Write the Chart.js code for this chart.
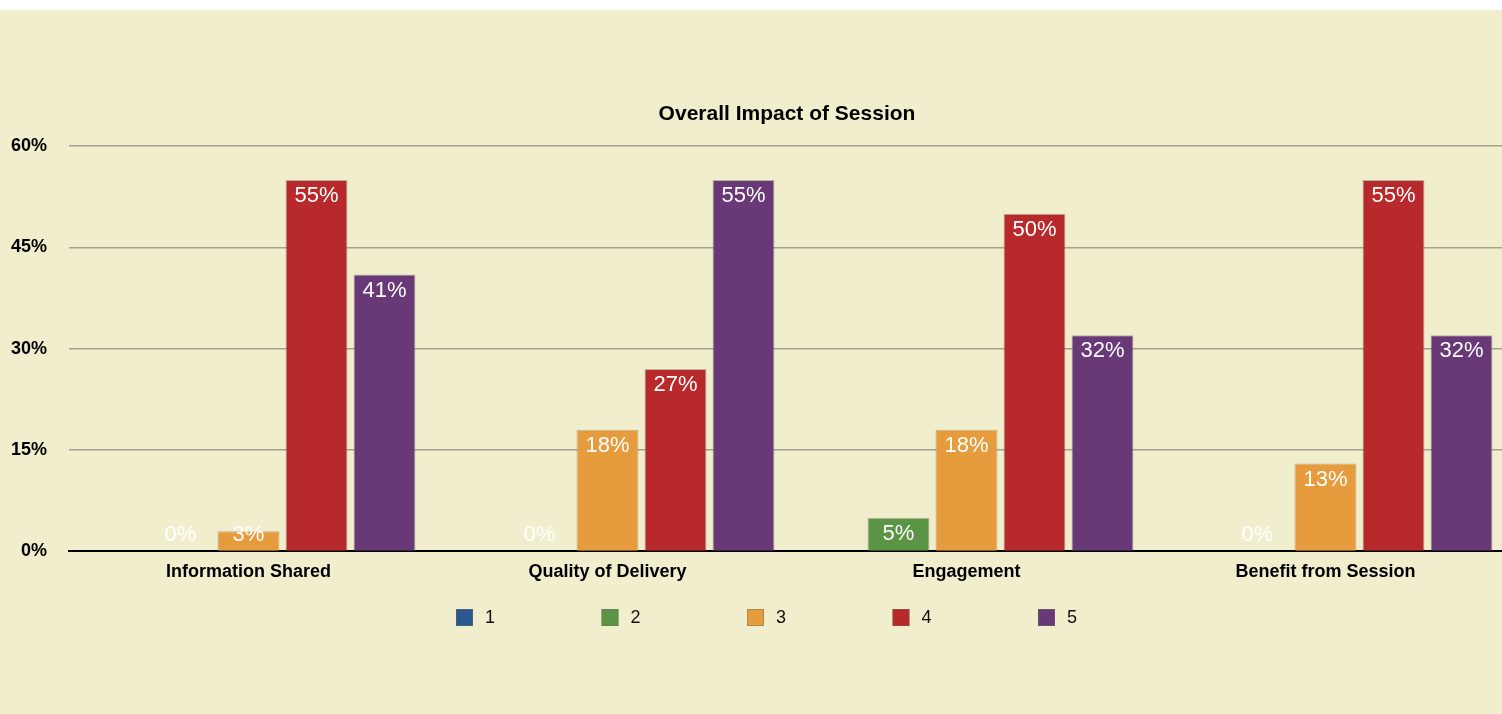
<!DOCTYPE html>
<html>
<head>
<meta charset="utf-8">
<title>Overall Impact of Session</title>
<script src="https://cdn.jsdelivr.net/npm/chart.js@4.4.1/dist/chart.umd.min.js"></script>
<style>
  html, body { margin: 0; padding: 0; background: #ffffff; overflow: hidden; }
  #wrap { position: absolute; left: 0; top: 10px; width: 1510px; height: 704px; background: #f1eecd; }
</style>
</head>
<body>
<div id="wrap"><canvas id="impactChart"></canvas></div>
<script>
// --- DATA ---
const categories = ["Information Shared", "Quality of Delivery", "Engagement", "Benefit from Session"];
const seriesNames = ["1", "2", "3", "4", "5"];
const rating1 = [null, null, null, null];
const rating2 = [0, 0, 5, 0];
const rating3 = [3, 18, 18, 13];
const rating4 = [55, 27, 50, 55];
const rating5 = [41, 55, 32, 32];
const yTicks = [0, 15, 30, 45, 60];

const colors = ["#2c5890", "#5b9444", "#e69c3c", "#b7292b", "#693877"];
const FONT = "'Liberation Sans', Helvetica, Arial, sans-serif";

// --- DATA LABELS (white % text inside bar tops) ---
const barLabels = {
  id: "barLabels",
  afterDatasetsDraw(chart) {
    const ctx = chart.ctx;
    ctx.save();
    ctx.font = "22px " + FONT;
    ctx.fillStyle = "#ffffff";
    ctx.textAlign = "center";
    ctx.textBaseline = "middle";
    chart.data.datasets.forEach((ds, i) => {
      const meta = chart.getDatasetMeta(i);
      meta.data.forEach((bar, j) => {
        const v = ds.data[j];
        if (v === null || v === undefined) return;
        const y = Math.min(bar.y + 16, bar.base - 16);
        ctx.fillText(v + "%", bar.x, y);
      });
    });
    ctx.restore();
  }
};

// --- centre the title over the plot area, not the whole canvas ---
const titleOverPlot = {
  id: "titleOverPlot",
  afterLayout(chart) {
    if (chart.titleBlock) {
      chart.titleBlock.left = chart.chartArea.left;
      chart.titleBlock.right = chart.chartArea.right;
    }
  }
};

// --- LEGEND (spread out like the original) ---
const wideLegend = {
  id: "wideLegend",
  afterDraw(chart) {
    const ctx = chart.ctx;
    const step = 145.5;
    const box = 17;
    const startX = 456;
    const top = 599;
    ctx.save();
    ctx.font = "18px " + FONT;
    ctx.textBaseline = "middle";
    ctx.textAlign = "left";
    chart.data.datasets.forEach((ds, i) => {
      const x = startX + i * step;
      ctx.fillStyle = ds.backgroundColor;
      ctx.fillRect(x, top, box, box);
      ctx.strokeStyle = "rgba(110,110,90,0.45)";
      ctx.lineWidth = 1;
      ctx.strokeRect(x + 0.5, top + 0.5, box - 1, box - 1);
      ctx.fillStyle = "#111111";
      ctx.fillText(ds.label, x + 29, top + box / 2 + 1);
    });
    ctx.restore();
  }
};

const datasets = [rating1, rating2, rating3, rating4, rating5].map((d, i) => ({
  label: seriesNames[i],
  data: d,
  backgroundColor: colors[i],
  borderColor: "rgba(110,110,90,0.45)",
  borderWidth: 1,
  categoryPercentage: 0.947,
  barPercentage: 0.912
}));

new Chart(document.getElementById("impactChart"), {
  type: "bar",
  data: { labels: categories, datasets },
  options: {
    responsive: true,
    maintainAspectRatio: false,
    animation: false,
    layout: { padding: { left: 11, right: 5, top: 0, bottom: 121 } },
    plugins: {
      legend: { display: false },
      tooltip: { enabled: false },
      title: {
        display: true,
        text: "Overall Impact of Session",
        color: "#000000",
        font: { family: FONT, size: 21, weight: "bold" },
        padding: { top: 92, bottom: 19 }
      }
    },
    scales: {
      x: {
        grid: { display: false, drawTicks: false },
        border: { display: true, color: "#000000", width: 2 },
        ticks: { color: "#000000", padding: 10, font: { family: FONT, size: 18, weight: "bold" } }
      },
      y: {
        min: 0,
        max: 60,
        afterBuildTicks: axis => { axis.ticks = yTicks.map(v => ({ value: v })); },
        afterFit: axis => { axis.width = 58; },
        grid: {
          drawTicks: false,
          color: c => (c.tick && c.tick.value === 0 ? "rgba(0,0,0,0)" : "#a3a394"),
          lineWidth: 1.5
        },
        border: { display: false },
        ticks: {
          color: "#000000",
          padding: 22,
          font: { family: FONT, size: 18, weight: "bold" },
          callback: v => v + "%"
        }
      }
    }
  },
  plugins: [barLabels, titleOverPlot, wideLegend]
});
</script>
</body>
</html>
